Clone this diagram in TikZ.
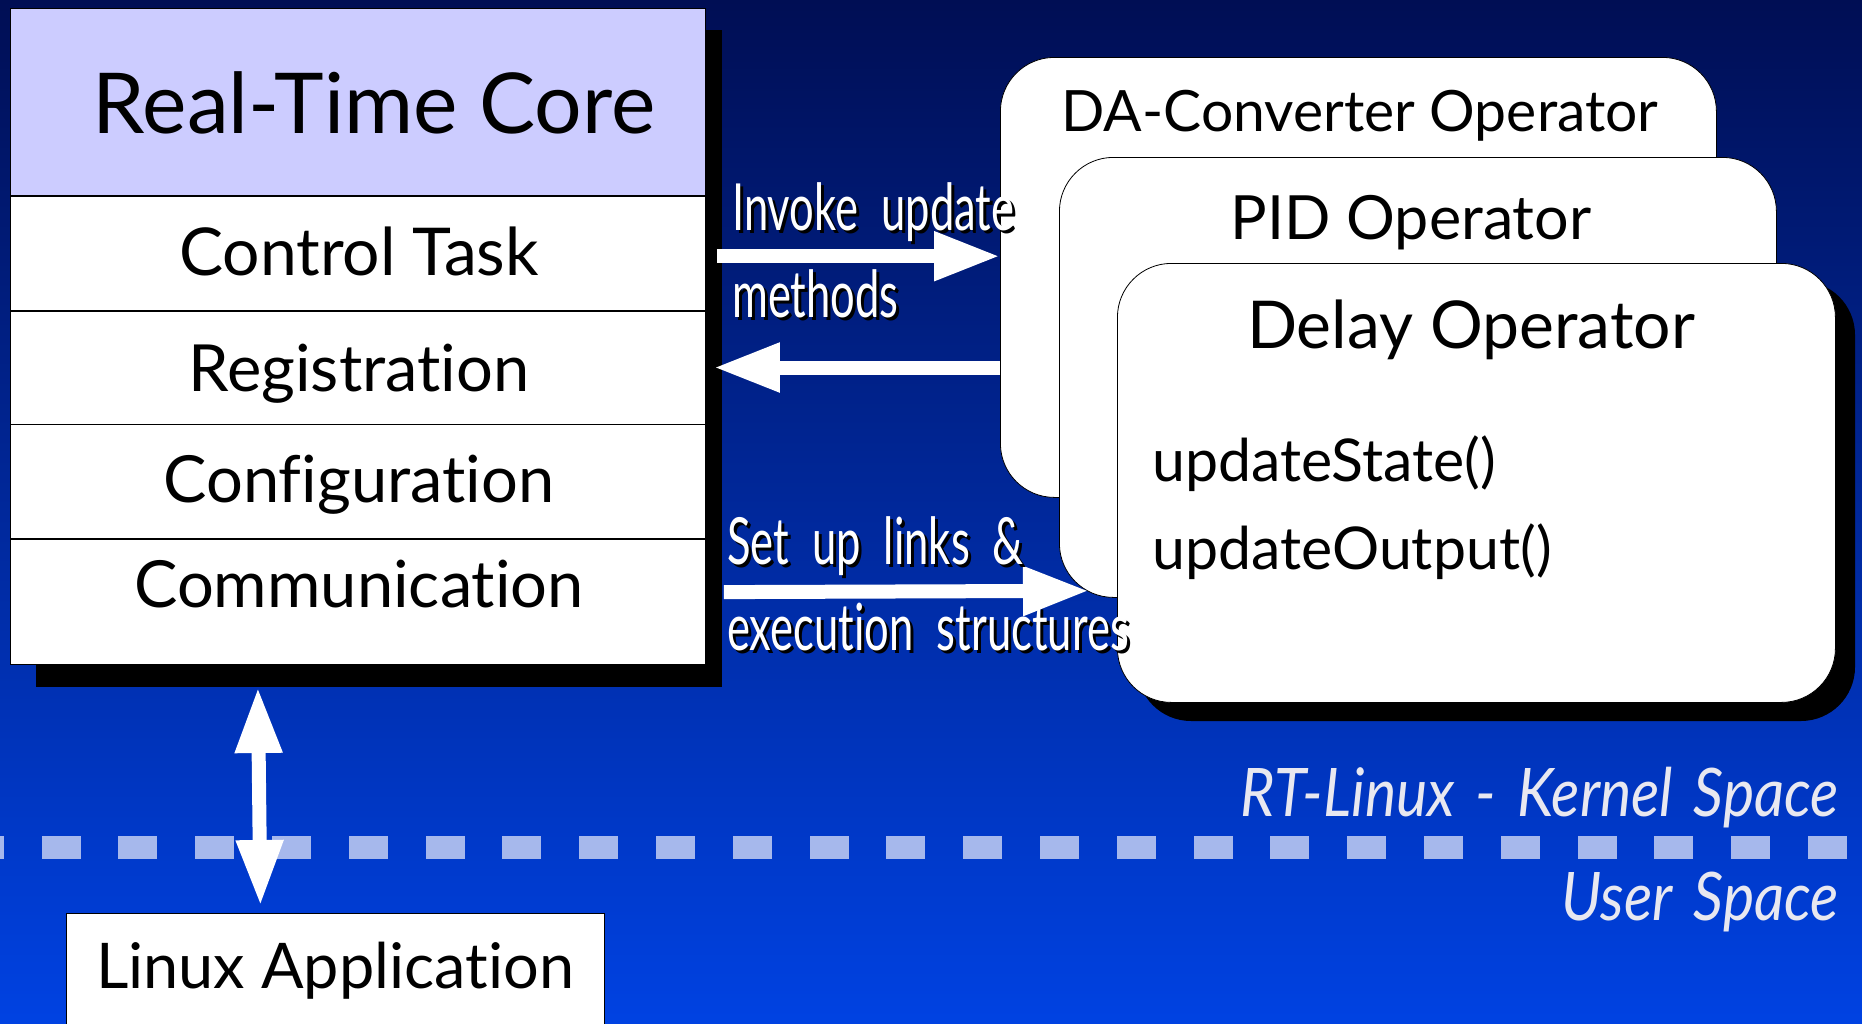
\documentclass[tikz,border=0pt]{standalone}
\usepackage{fontspec}
\setmainfont{Lato}[Ligatures=NoCommon]
\newfontfamily\condfont[FakeStretch=0.67,Ligatures=NoCommon]{Lato}
\newfontfamily\spacefont[FakeStretch=0.88,Ligatures=NoCommon]{Lato}
\usetikzlibrary{arrows.meta,calc}

\definecolor{bgtop}{RGB}{0,14,84}
\definecolor{bgbot}{RGB}{0,66,226}
\definecolor{lavender}{RGB}{204,204,255}
\definecolor{sepcol}{RGB}{166,184,236}
\definecolor{spacetext}{RGB}{232,232,240}

\newcommand{\shlabel}[3]{%
  \node[lblshadow] (#1s) at ($(#2)+(3,3)$) {#3};
  \node[lbl] (#1) at (#2) {#3};}

\begin{document}
\begin{tikzpicture}[x=1pt,y=-1pt,
  corebox/.style={draw=black,line width=0.8pt,fill=white,minimum width=695pt,inner sep=0pt,anchor=north west},
  coretext/.style={anchor=base,inner sep=0pt,font=\fontsize{65}{70}\selectfont},
  opbox/.style={draw=black,line width=0.8pt,fill=white,rounded corners=54pt,inner sep=0pt,anchor=north west},
  optitle/.style={anchor=base,inner sep=0pt},
  method/.style={anchor=base west,inner sep=0pt,font=\fontsize{59}{64}\selectfont},
  lbl/.style={anchor=base west,inner sep=0pt,text=white,font={\condfont\fontsize{65}{70}\selectfont\spaceskip=23pt\relax}},
  lblshadow/.style={lbl,text=black},
  fat/.style={draw=white,line width=14pt,-{Triangle[length=66pt,width=46pt]}},
  fatboth/.style={draw=white,line width=14pt,{Triangle[length=66pt,width=44pt]}-{Triangle[length=66pt,width=44pt]}},
  spacelabel/.style={anchor=base east,inner sep=0pt,text=spacetext,font={\spacefont\itshape\fontsize{67}{72}\selectfont\spaceskip=21pt\relax}}]

\useasboundingbox (0,0) rectangle (1862,1023);
\clip (0,0) rectangle (1862,1023);

% background gradient
\shade[top color=bgtop,bottom color=bgbot] (0,0) rectangle (1862,1023);

% kernel / user space separator
\foreach \k in {-1,...,23}
  \fill[sepcol] ({41.5+76.8*\k},836) rectangle ++(39,23);
\node[spacelabel] (kspace) at (1839,816) {RT-Linux - Kernel Space};
\node[spacelabel] (uspace) at (1839,920) {User Space};

% real-time core
\fill[black] (36,30) rectangle (722,687);
\node[corebox,fill=lavender,minimum height=187pt] (hdr) at (10,8) {};
\node[corebox,minimum height=114pt] (row1) at (hdr.south west) {};
\node[corebox,minimum height=113pt] (row2) at (row1.south west) {};
\node[corebox,minimum height=114pt] (row3) at (row2.south west) {};
\node[corebox,minimum height=125pt] (row4) at (row3.south west) {};
\node[anchor=base,inner sep=0pt,font=\fontsize{84}{90}\selectfont] (thdr) at (374,133) {Real-Time Core};
\node[coretext,font=\fontsize{66}{72}\selectfont] (tctrl) at (359,275) {Control Task};
\node[coretext] (treg) at (359,391) {Registration};
\node[coretext] (tconf) at (359,502) {Configuration};
\node[coretext] (tcomm) at (359,607) {Communication};

% operators
\node[opbox,minimum width=716pt,minimum height=440pt] (da) at (1000,57) {};
\node[optitle,font=\fontsize{57}{62}\selectfont] (tda) at (1360,131) {DA-Converter Operator};
\node[opbox,minimum width=717pt,minimum height=440pt] (pid) at (1059,157) {};
\node[optitle,font=\fontsize{61}{66}\selectfont] (tpid) at (1411,239) {PID Operator};
\fill[black,rounded corners=54pt] (1137,281) rectangle (1855,721);
\node[opbox,minimum width=718pt,minimum height=439pt] (delay) at (1117,263) {};
\node[optitle,font=\fontsize{66}{72}\selectfont] (tdelay) at (1471,348) {Delay Operator};
\node[method] (mstate) at (1152,481) {updateState()};
\node[method] (moutput) at (1152,569) {updateOutput()};

% linux application
\node[draw=black,line width=0.8pt,fill=white,anchor=north west,minimum width=538pt,minimum height=140pt,inner sep=0pt] (linux) at (66,913) {};
\node[coretext,font=\fontsize{63}{68}\selectfont] (tlinux) at (335,988) {Linux Application};

% connectors
\draw[fat] ([xshift=11pt,yshift=-3pt]row1.east) -- ([yshift=-3pt]row1.east -| da.west);
\draw[fat] (row2.east -| da.west) -- ([xshift=8pt]row2.east);
\draw[fat] ([xshift=18pt,yshift=10pt]row4.east) -- ([xshift=30pt,yshift=7pt]pid.south west);
\draw[fatboth] ([xshift=-100pt,yshift=-22pt]row4.south) -- ([xshift=-75pt,yshift=7pt]linux.north);

% arrow labels
\shlabel{linv}{732,230}{Invoke update}
\shlabel{lmeth}{732,317}{methods}
\shlabel{lset}{727,564}{Set up links \&}
\shlabel{lexec}{727,650}{execution structures}

\end{tikzpicture}
\end{document}
